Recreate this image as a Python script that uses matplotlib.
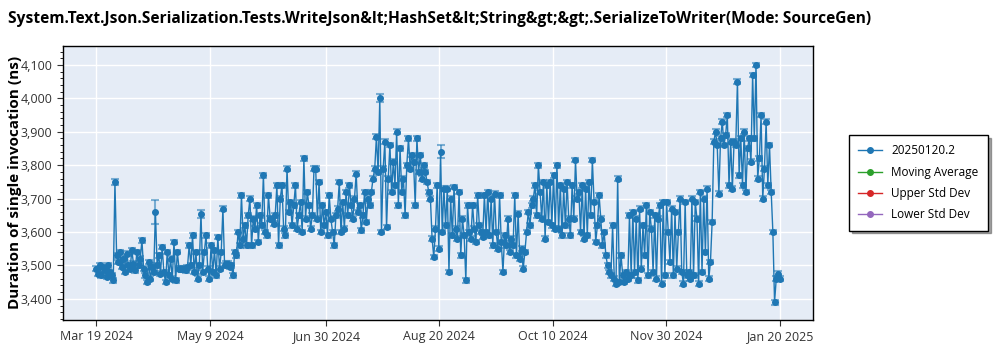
import numpy as np
import pandas as pd
import matplotlib
matplotlib.use("Agg")
import matplotlib.pyplot as plt
from matplotlib.lines import Line2D
from matplotlib.ticker import FuncFormatter, AutoMinorLocator

plt.rcParams['font.family'] = ['Open Sans', 'DejaVu Sans']

title = "System.Text.Json.Serialization.Tests.WriteJson&lt;HashSet&lt;String&gt;&gt;.SerializeToWriter(Mode: SourceGen)"
series_name = "20250120.2"
start_date = "2024-03-19"
end_date = "2025-01-20"

# duration per run (ns) in chronological order
values = [
    3490, 3475, 3500, 3470, 3495, 3485, 3465, 3500, 3480, 3470, 3455, 3750, 3530,
    3510, 3540, 3495, 3520, 3480, 3535, 3500, 3490, 3545, 3505, 3485, 3540, 3500,
    3520, 3575, 3490, 3470, 3450, 3510, 3460, 3495, 3480, 3660, 3500, 3530, 3475,
    3555, 3480, 3450, 3540, 3470, 3520, 3460, 3570, 3455, 3540, 3490, 3490, 3488,
    3490, 3485, 3495, 3560, 3500, 3590, 3480, 3540, 3460, 3500, 3655, 3480, 3540,
    3590, 3490, 3460, 3560, 3480, 3545, 3470, 3585, 3490, 3540, 3670, 3500, 3505,
    3505, 3495, 3500, 3470, 3540, 3530, 3600, 3560, 3710, 3580, 3620, 3560, 3650,
    3700, 3560, 3640, 3610, 3680, 3570, 3650, 3620, 3770, 3600, 3590, 3710, 3640,
    3640, 3625, 3650, 3740, 3560, 3700, 3740, 3610, 3590, 3790, 3660, 3690, 3620,
    3680, 3740, 3610, 3650, 3690, 3600, 3820, 3640, 3720, 3680, 3610, 3650, 3790,
    3790, 3640, 3750, 3600, 3680, 3620, 3660, 3590, 3710, 3640, 3600, 3560, 3650,
    3670, 3750, 3600, 3690, 3610, 3720, 3650, 3740, 3680, 3640, 3700, 3775, 3660,
    3680, 3605, 3650, 3720, 3630, 3700, 3680, 3720, 3760, 3790, 3885, 3780, 4000,
    3600, 3790, 3870, 3615, 3760, 3860, 3720, 3810, 3740, 3900, 3680, 3850, 3720,
    3760, 3650, 3800, 3880, 3790, 3830, 3810, 3680, 3880, 3780, 3830, 3760, 3800,
    3780, 3750, 3720, 3700, 3580, 3525, 3610, 3740, 3550, 3840, 3600, 3730, 3620,
    3730, 3480, 3700, 3590, 3735, 3610, 3580, 3720, 3530, 3640, 3590, 3455, 3680,
    3600, 3580, 3680, 3610, 3570, 3710, 3620, 3600, 3585, 3710, 3600, 3720, 3590,
    3700, 3560, 3715, 3600, 3550, 3710, 3570, 3480, 3590, 3560, 3640, 3540, 3580,
    3560, 3710, 3530, 3655, 3520, 3550, 3490, 3540, 3600, 3660, 3620, 3680, 3700,
    3740, 3650, 3800, 3720, 3640, 3750, 3580, 3740, 3630, 3750, 3620, 3770, 3610,
    3800, 3610, 3740, 3590, 3730, 3620, 3750, 3640, 3590, 3740, 3640, 3815, 3700,
    3720, 3600, 3740, 3580, 3730, 3590, 3750, 3650, 3815, 3690, 3570, 3620, 3710,
    3640, 3560, 3600, 3530, 3500, 3480, 3470, 3620, 3460, 3445, 3760, 3450, 3530,
    3470, 3450, 3480, 3460, 3650, 3470, 3660, 3480, 3640, 3455, 3670, 3490, 3620,
    3530, 3680, 3470, 3660, 3610, 3480, 3650, 3460, 3640, 3680, 3445, 3690, 3470,
    3690, 3600, 3510, 3670, 3470, 3660, 3490, 3600, 3700, 3480, 3445, 3690, 3470,
    3480, 3460, 3700, 3470, 3690, 3640, 3445, 3720, 3480, 3700, 3540, 3730, 3460,
    3510, 3630, 3870, 3900, 3860, 3715, 3880, 3930, 3860, 3890, 3950, 3740, 3870,
    3730, 3870, 3860, 4050, 3770, 3880, 3740, 3900, 3720, 3850, 3880, 3810, 4070,
    3880, 4100, 3760, 3820, 3950, 3700, 3790, 3930, 3740, 3860, 3720, 3600, 3390,
    3460, 3475, 3460,
]
base_err = 7
# runs with a wider spread (index -> std dev in ns)
wide_err = {11: 10, 35: 35, 62: 12, 168: 12, 204: 20}

tick_dates = ["2024-03-19", "2024-05-09", "2024-06-30", "2024-08-20",
              "2024-10-10", "2024-11-30", "2025-01-20"]

legend_names = [series_name, "Moving Average", "Upper Std Dev", "Lower Std Dev"]
legend_colors = ['#1f77b4', '#2ca02c', '#d62728', '#9467bd']

dates = pd.date_range(start_date, end_date, periods=len(values))
yerr = [wide_err.get(i, base_err) for i in range(len(values))]

blue = legend_colors[0]
fig = plt.figure(figsize=(10, 3.5), dpi=100)
ax = fig.add_axes([0.063, 0.086, 0.750, 0.783])
ax.set_facecolor('#E5ECF6')

ax.errorbar(dates, values, yerr=yerr, fmt='-o', color=blue, lw=1, ms=4,
            ecolor=(0.12, 0.47, 0.71, 0.55), elinewidth=1.5, capsize=3, capthick=1.5,
            zorder=3)

ax.set_xlim(pd.Timestamp("2024-03-04"), pd.Timestamp("2025-02-04"))
ax.set_ylim(3337, 4157)
ticks = [pd.Timestamp(d) for d in tick_dates]
ax.set_xticks(ticks)
ax.set_xticklabels([f"{t.strftime('%b')} {t.day} {t.year}" for t in ticks])
ax.set_yticks(np.arange(3400, 4101, 100))
ax.yaxis.set_major_formatter(FuncFormatter(lambda v, p: f"{int(v):,}"))
ax.yaxis.set_minor_locator(AutoMinorLocator(5))
ax.tick_params(axis='both', labelsize=9, colors='#333333', length=4)
ax.tick_params(axis='y', which='minor', length=2)
ax.grid(True, color='white', lw=1)
ax.set_axisbelow(True)
for s in ax.spines.values():
    s.set_color('black')
    s.set_linewidth(1)

ax.set_ylabel("Duration of single invocation (ns)", fontsize=11, fontweight='bold')
ax.yaxis.set_label_coords(-0.055, 0.5)
fig.text(0.008, 0.945, title, fontsize=11.2, fontweight='bold', ha='left', va='center')

handles = [Line2D([], [], color=c, marker='o', ms=4, lw=1) for c in legend_colors]
leg = ax.legend(handles, legend_names, loc='center left', bbox_to_anchor=(1.04, 0.5),
                fontsize=8.5, frameon=True, fancybox=False, shadow=True, borderpad=0.8,
                labelspacing=0.7, handlelength=2)
leg.get_frame().set_edgecolor('black')
leg.get_frame().set_linewidth(1)

fig.savefig("out.png", dpi=100)
